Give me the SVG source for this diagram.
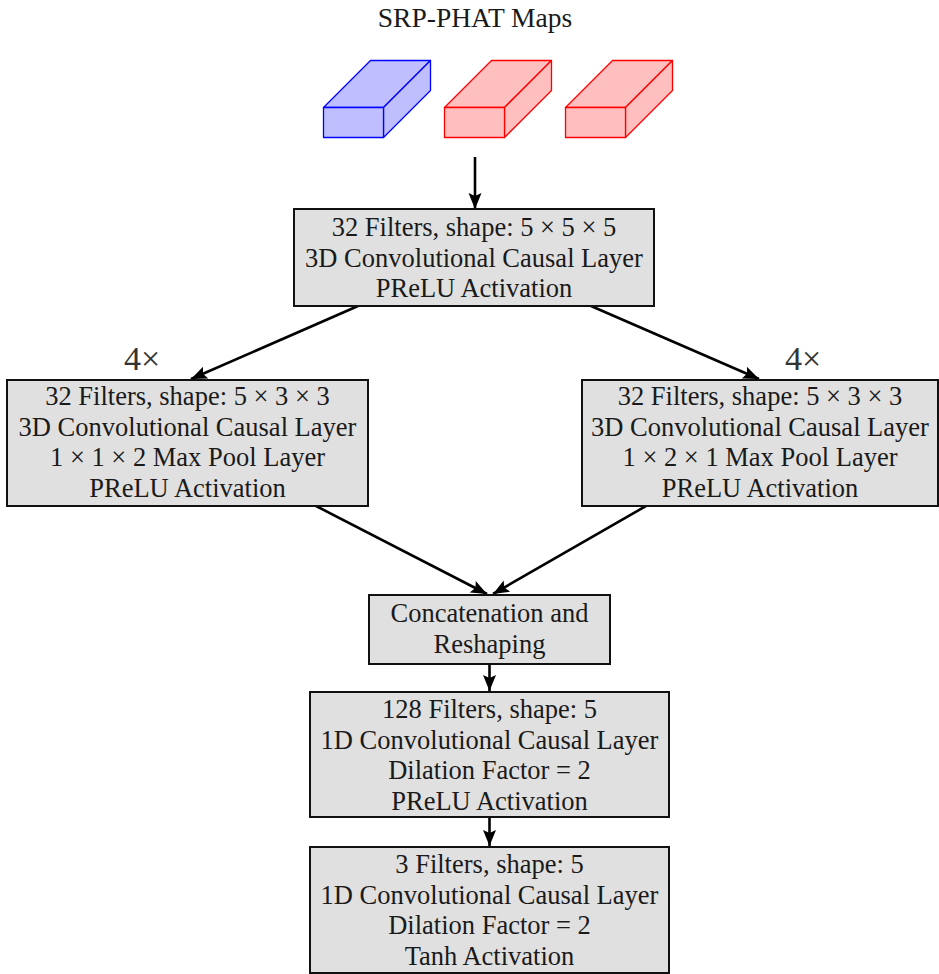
<svg xmlns="http://www.w3.org/2000/svg" width="939" height="974" viewBox="0 0 939 974">
  <style>
    text { font-family: "Liberation Serif", "Times New Roman", serif; font-size: 26.5px; fill: #1a1a1a; text-anchor: middle; }
    .box { fill: #e0e0e0; stroke: #111; stroke-width: 2; }
    .rep { font-size: 34px; text-anchor: start; fill: #333; }
    .edge { stroke: #000; stroke-width: 2.6; fill: none; marker-end: url(#tip); }
    .blue { fill: #bfbfff; stroke: #0000ff; stroke-width: 1.3; stroke-linejoin: round; }
    .red { fill: #ffbfbf; stroke: #ff0000; stroke-width: 1.3; stroke-linejoin: round; }
  </style>
  <defs>
    <marker id="tip" markerUnits="userSpaceOnUse" markerWidth="17" markerHeight="15" viewBox="0 0 17 15" refX="16" refY="7.5" orient="auto">
      <path d="M0,1 L16,7.5 L0,14 L3,7.5 Z" fill="#000"/>
    </marker>
    <!-- one input volume: front face, top face, right face -->
    <g id="cube">
      <polygon points="323.5,107.5 370.5,60.5 430.5,60.5 383.5,107.5"/>
      <polygon points="383.5,107.5 430.5,60.5 430.5,90.5 383.5,137.5"/>
      <rect x="323.5" y="107.5" width="60" height="30"/>
    </g>
  </defs>

  <rect width="939" height="974" fill="#fff"/>

  <!-- input maps -->
  <g id="input">
    <text x="475" y="27" style="font-size:27.5px">SRP-PHAT Maps</text>
    <use href="#cube" class="blue"/>
    <use href="#cube" class="red" transform="translate(121,0)"/>
    <use href="#cube" class="red" transform="translate(242,0)"/>
  </g>

  <!-- connectors -->
  <g id="connectors">
    <line class="edge" x1="475" y1="157" x2="475" y2="209"/>
    <line class="edge" x1="358" y1="306" x2="191" y2="379"/>
    <line class="edge" x1="591" y1="306" x2="759" y2="379"/>
    <line class="edge" x1="316" y1="506" x2="487" y2="594"/>
    <line class="edge" x1="646" y1="506" x2="493" y2="594"/>
    <line class="edge" x1="489.5" y1="664" x2="489.5" y2="691"/>
    <line class="edge" x1="489.5" y1="817" x2="489.5" y2="846"/>
  </g>

  <g id="conv3d-first">
    <rect class="box" x="294" y="209" width="360" height="97"/>
    <text x="474" y="236">32 Filters, shape: 5 × 5 × 5</text>
    <text x="474" y="266.5">3D Convolutional Causal Layer</text>
    <text x="474" y="297">PReLU Activation</text>
  </g>

  <g id="branch-left">
    <text class="rep" x="124" y="370">4×</text>
    <rect class="box" x="7" y="380" width="361" height="126"/>
    <text x="187.5" y="405">32 Filters, shape: 5 × 3 × 3</text>
    <text x="187.5" y="435.5">3D Convolutional Causal Layer</text>
    <text x="187.5" y="466">1 × 1 × 2 Max Pool Layer</text>
    <text x="187.5" y="496.5">PReLU Activation</text>
  </g>

  <g id="branch-right">
    <text class="rep" x="785" y="370">4×</text>
    <rect class="box" x="582" y="380" width="356" height="126"/>
    <text x="760" y="405">32 Filters, shape: 5 × 3 × 3</text>
    <text x="760" y="435.5">3D Convolutional Causal Layer</text>
    <text x="760" y="466">1 × 2 × 1 Max Pool Layer</text>
    <text x="760" y="496.5">PReLU Activation</text>
  </g>

  <g id="concat">
    <rect class="box" x="369" y="595" width="241" height="69"/>
    <text x="489.5" y="622">Concatenation and</text>
    <text x="489.5" y="652.5">Reshaping</text>
  </g>

  <g id="conv1d-hidden">
    <rect class="box" x="310" y="692" width="359" height="125"/>
    <text x="489.5" y="718">128 Filters, shape: 5</text>
    <text x="489.5" y="748.5">1D Convolutional Causal Layer</text>
    <text x="489.5" y="779">Dilation Factor = 2</text>
    <text x="489.5" y="809.5">PReLU Activation</text>
  </g>

  <g id="conv1d-output">
    <rect class="box" x="310" y="847" width="359" height="126"/>
    <text x="489.5" y="873">3 Filters, shape: 5</text>
    <text x="489.5" y="903.5">1D Convolutional Causal Layer</text>
    <text x="489.5" y="934">Dilation Factor = 2</text>
    <text x="489.5" y="964.5">Tanh Activation</text>
  </g>
</svg>
